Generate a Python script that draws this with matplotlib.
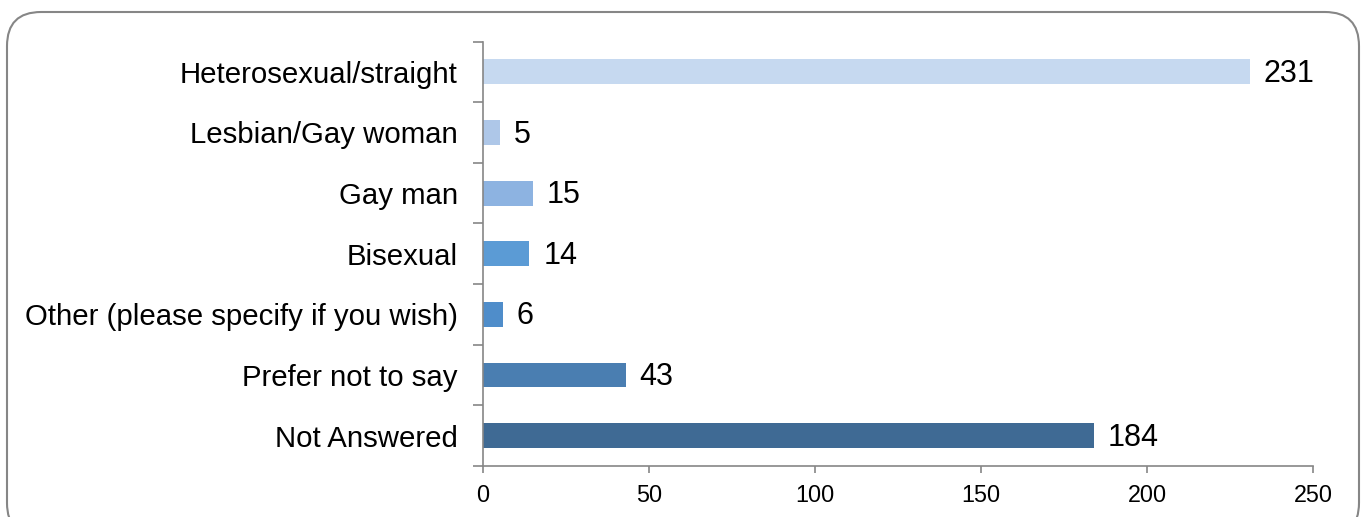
import numpy as np
import matplotlib.pyplot as plt
from matplotlib.patches import FancyBboxPatch

plt.rcParams['font.family'] = ['Liberation Sans', 'DejaVu Sans']

categories = ['Heterosexual/straight', 'Lesbian/Gay woman', 'Gay man', 'Bisexual',
              'Other (please specify if you wish)', 'Prefer not to say', 'Not Answered']
counts = [231, 5, 15, 14, 6, 43, 184]
bar_colors = ['#C6D9F0', '#AEC7E8', '#8DB3E1', '#5B9BD5', '#4F8DCA', '#4A7EB1', '#3F6A94']
xticks = [0, 50, 100, 150, 200, 250]

fig = plt.figure(figsize=(13.62, 5.17), dpi=100)
ax = fig.add_axes([483 / 1362, 1 - 466 / 517, 830 / 1362, 424.5 / 517])

# rounded frame round the whole chart
frame = FancyBboxPatch((7 / 1362, -20 / 517), 1352 / 1362, (517 - 12 + 20) / 517,
                       boxstyle='round,pad=0,rounding_size=0.025',
                       transform=fig.transFigure, facecolor='none',
                       edgecolor='#868686', linewidth=1.5, zorder=0,
                       mutation_aspect=1362 / 517)
fig.patches.append(frame)

y = np.arange(len(categories))
ax.barh(y, counts, height=0.41, color=bar_colors)
for yi, v in zip(y, counts):
    ax.annotate(str(v), (v, yi), xytext=(10, -1.5), textcoords='offset points',
                va='center', ha='left', fontsize=22)

ax.set_ylim(len(categories) - 0.5, -0.5)
ax.set_xlim(0, 250)
ax.set_xticks(xticks)
ax.set_yticks(y)
ax.set_yticklabels(categories, fontsize=21.2)
ax.set_yticks(np.arange(len(categories) + 1) - 0.5, minor=True)
ax.tick_params(axis='y', which='major', length=0, pad=18)
ax.tick_params(axis='y', which='minor', length=7, width=1.2, color='#868686')
ax.tick_params(axis='x', length=5, width=1.2, color='#868686', labelsize=16.8, pad=8)

for s in ['top', 'right']:
    ax.spines[s].set_visible(False)
for s in ['left', 'bottom']:
    ax.spines[s].set_color('#868686')
    ax.spines[s].set_linewidth(1.2)

fig.savefig('out.png', dpi=100)
